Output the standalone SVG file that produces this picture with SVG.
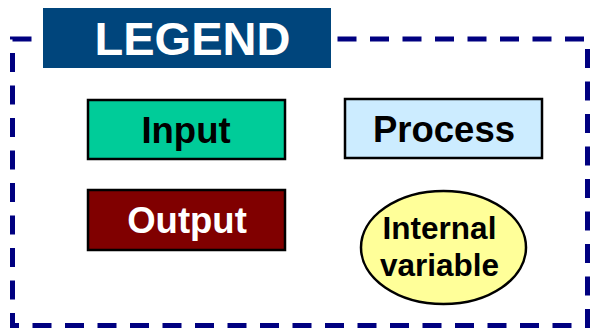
<svg xmlns="http://www.w3.org/2000/svg" width="597" height="333" viewBox="0 0 597 333">
  <style>
    .lbl { font-family: "Liberation Sans", Arial, sans-serif; font-weight: bold; text-anchor: middle; }
    .box { stroke: #000000; stroke-width: 2.5; }
  </style>
  <rect width="597" height="333" fill="#ffffff"/>
  <!-- dashed legend frame -->
  <g id="connectors">
    <path d="M12.5 39 H587.5 V325.5 H12.5 Z" fill="none" stroke="#000080" stroke-width="5" stroke-dasharray="19 13.5"/>
  </g>
  <g id="legend-title">
    <rect x="43" y="8" width="288" height="60" fill="#00457C"/>
    <text class="lbl" x="192.5" y="55" font-size="47" fill="#ffffff">LEGEND</text>
  </g>
  <g id="input">
    <rect class="box" x="88" y="100" width="197" height="59" fill="#00CC99"/>
    <text class="lbl" x="186" y="143" font-size="36.5" fill="#000000">Input</text>
  </g>
  <g id="process">
    <rect class="box" x="345" y="99" width="197" height="59" fill="#CCECFF"/>
    <text class="lbl" x="444" y="142" font-size="36.5" fill="#000000">Process</text>
  </g>
  <g id="output">
    <rect class="box" x="88" y="190" width="197" height="60" fill="#800000"/>
    <text class="lbl" x="187" y="233" font-size="36.5" fill="#ffffff">Output</text>
  </g>
  <g id="internal-variable">
    <ellipse class="box" cx="443.5" cy="247.5" rx="82.5" ry="56.5" fill="#FFFF99"/>
    <text class="lbl" x="439.5" y="238.5" font-size="31.5" fill="#000000">Internal</text>
    <text class="lbl" x="439.5" y="276" font-size="31.5" fill="#000000">variable</text>
  </g>
</svg>
